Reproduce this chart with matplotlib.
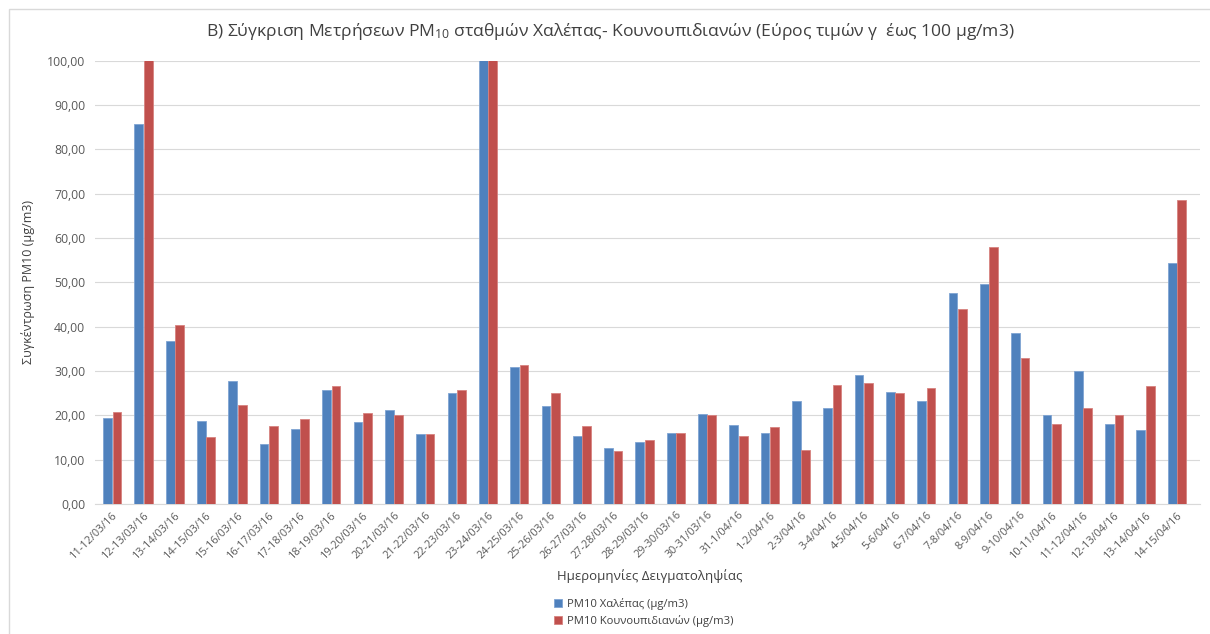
from matplotlib import pyplot as plt
from matplotlib.patches import Rectangle
from matplotlib.ticker import FuncFormatter
import numpy as np

plt.rcParams['font.family'] = ['Open Sans', 'DejaVu Sans']
plt.rcParams['mathtext.default'] = 'regular'

dates = ['11-12/03/16', '12-13/03/16', '13-14/03/16', '14-15/03/16', '15-16/03/16',
         '16-17/03/16', '17-18/03/16', '18-19/03/16', '19-20/03/16', '20-21/03/16',
         '21-22/03/16', '22-23/03/16', '23-24/03/16', '24-25/03/16', '25-26/03/16',
         '26-27/03/16', '27-28/03/16', '28-29/03/16', '29-30/03/16', '30-31/03/16',
         '31-1/04/16', '1-2/04/16', '2-3/04/16', '3-4/04/16', '4-5/04/16',
         '5-6/04/16', '6-7/04/16', '7-8/04/16', '8-9/04/16', '9-10/04/16',
         '10-11/04/16', '11-12/04/16', '12-13/04/16', '13-14/04/16', '14-15/04/16']
chalepa = [19.4, 85.8, 36.8, 18.7, 27.7, 13.5, 16.9, 25.7, 18.5, 21.2,
           15.8, 25.0, 120.0, 31.0, 22.1, 15.4, 12.7, 14.0, 16.1, 20.4,
           17.9, 16.0, 23.3, 21.7, 29.1, 25.2, 23.3, 47.6, 49.7, 38.7,
           20.0, 30.0, 18.1, 16.8, 54.3]
kounoupidiana = [20.7, 120.0, 40.5, 15.2, 22.3, 17.5, 19.2, 26.7, 20.6, 20.2,
                 15.7, 25.8, 120.0, 31.4, 25.1, 17.7, 11.9, 14.5, 16.0, 20.1,
                 15.3, 17.3, 12.1, 26.8, 27.4, 25.1, 26.1, 44.0, 57.9, 33.0,
                 18.1, 21.7, 20.2, 26.6, 68.5]

fig = plt.figure(figsize=(12.1, 6.34), dpi=100)
ax = fig.add_axes([0.0785, 0.205, 0.9135, 0.699])

x = np.arange(len(dates))
w = 0.28
ax.bar(x - w / 2 - 0.01, chalepa, w, color='#4F81BD', edgecolor='#7FA4D3', lw=0.6,
       label='PM10 Χαλέπας (μg/m3)', zorder=3)
ax.bar(x + w / 2 + 0.01, kounoupidiana, w, color='#C0504D', edgecolor='#D7827F', lw=0.6,
       label='PM10 Κουνουπιδιανών (μg/m3)', zorder=3)

ax.set_xlim(-0.55, 34.75)
ax.set_ylim(0, 100)
ax.set_yticks(np.arange(0, 101, 10))
ax.yaxis.set_major_formatter(FuncFormatter(lambda v, p: '{:.2f}'.format(v).replace('.', ',')))
ax.set_xticks(x)
ax.set_xticklabels(dates, rotation=45, ha='right', rotation_mode='anchor', fontsize=7.8, color='#595959')
ax.tick_params(axis='y', labelsize=8.8, colors='#595959', length=0, pad=7)
ax.tick_params(axis='x', length=0, pad=4)
ax.grid(axis='y', color='#D9D9D9', lw=0.8, zorder=0)
for s in ['top', 'right', 'left']:
    ax.spines[s].set_visible(False)
ax.spines['bottom'].set_color('#D9D9D9')

fig.text(0.504, 0.95, 'Β) Σύγκριση Μετρήσεων PM$_{10}$ σταθμών Χαλέπας- Κουνουπιδιανών (Εύρος τιμών γ  έως 100 μg/m3)',
         ha='center', va='center', fontsize=12.6, color='#404040')
ax.set_ylabel('Συγκέντρωση PM10 (μg/m3)', fontsize=9, color='#404040', labelpad=9)
fig.text(0.537, 0.085, 'Ημερομηνίες Δειγματοληψίας', ha='center', fontsize=9.5, color='#404040')

fig.legend(loc='center', bbox_to_anchor=(0.532, 0.034), ncol=1, frameon=False,
           fontsize=8.1, handlelength=0.7, handleheight=0.7, handletextpad=0.4,
           labelspacing=0.5, labelcolor='#404040')

# chart area border (only top and left edges are inside the image)
fig.patches.append(Rectangle((0.0074, -0.1), 1.1, 1.086, transform=fig.transFigure,
                             fill=False, edgecolor='#D9D9D9', lw=1.0))

plt.savefig('out.png')
